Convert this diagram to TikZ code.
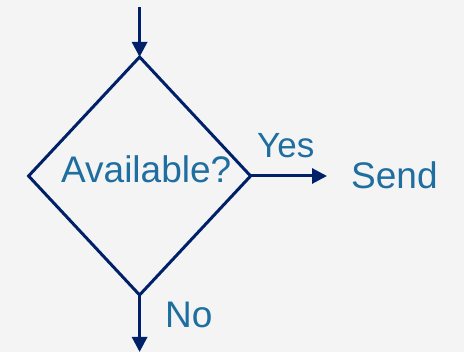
\documentclass[tikz,border=0pt]{standalone}
\usepackage{fontspec}
\setmainfont{Liberation Sans}
\usetikzlibrary{shapes.geometric,arrows.meta,positioning}

\definecolor{flownavy}{RGB}{0,33,105}
\definecolor{flowtext}{RGB}{30,110,160}
\definecolor{flowback}{RGB}{244,244,244}

\tikzset{
	decision/.style={diamond, draw=flownavy, line width=3pt, minimum width=222pt, minimum height=238pt, inner sep=0pt, outer sep=0pt},
	flow/.style={draw=flownavy, line width=3pt, -{Triangle[length=15pt,width=15pt]}},
	lbl/.style={text=flowtext, font=\fontsize{37}{40}\selectfont, inner sep=0pt, anchor=base west},
}

\begin{document}
\begin{tikzpicture}[x=1pt,y=1pt]
		\fill[flowback] (0,0) rectangle (464,352);
		\useasboundingbox (0,0) rectangle (464,352);

			\node [decision] (avail) at (139.6,176) {};
			\node [lbl] (question) at (61,169) {Available?};
			\coordinate [above=50pt of avail.north] (in);
			\coordinate [below=57pt of avail.south] (out);
			\node [lbl] (send) at (351,163) {Send};
			\node [lbl, font=\fontsize{35}{38}\selectfont] (yes) at (257,194) {Yes};
			\node [lbl] (no) at (165,24) {No};

			\draw [flow] (in) -- (avail.north);
			\draw [flow, shorten >=24pt] (avail.east) -- (avail.east -| send.west);
			\draw [flow] (avail.south) -- (out);

	\end{tikzpicture}
\end{document}
